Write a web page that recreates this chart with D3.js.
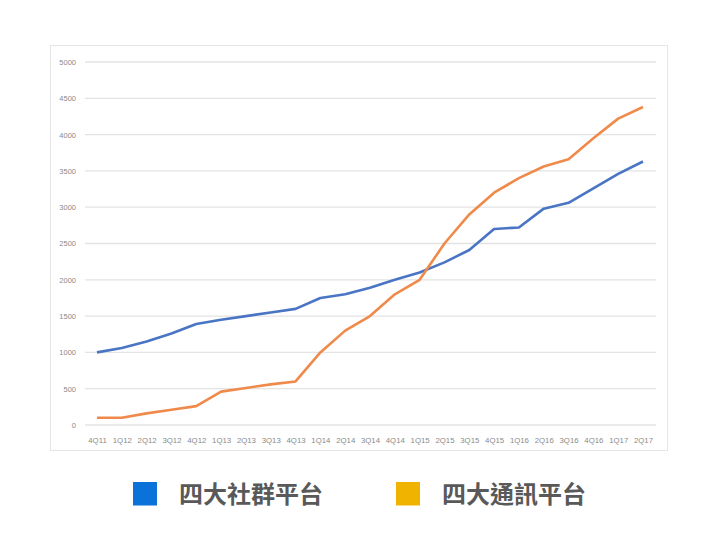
<!DOCTYPE html>
<html>
<head>
<meta charset="utf-8">
<script src="https://cdn.jsdelivr.net/npm/d3@7"></script>
<style>
  body { margin: 0; background: #fff; }
  svg { display: block; }
</style>
</head>
<body>
<div id="chart"></div>
<script>
// Data
const quarters = ["4Q11", "1Q12", "2Q12", "3Q12", "4Q12", "1Q13", "2Q13", "3Q13", "4Q13",
    "1Q14", "2Q14", "3Q14", "4Q14", "1Q15", "2Q15", "3Q15", "4Q15", "1Q16", "2Q16",
    "3Q16", "4Q16", "1Q17", "2Q17"]
const social = [1000, 1060, 1150, 1260, 1390, 1450, 1500, 1550, 1600, 1750, 1800, 1890,
    2000, 2100, 2240, 2410, 2700, 2720, 2980, 3060, 3260, 3460, 3630]
const messaging = [100, 100, 160, 210, 260, 460, 510, 560, 600, 1000, 1300, 1500,
    1800, 2000, 2500, 2900, 3200, 3400, 3560, 3660, 3950, 4220, 4380]
const yTicks = [0, 500, 1000, 1500, 2000, 2500, 3000, 3500, 4000, 4500, 5000]
const legendNames = ["四大社群平台", "四大通訊平台"]

function plotChart() {
    const width = 714
    const height = 541

    const svg = d3.select("#chart").append("svg")
        .attr("width", width)
        .attr("height", height)

    // chart frame
    svg.append("rect")
        .attr("x", 50.5)
        .attr("y", 45.5)
        .attr("width", 617)
        .attr("height", 405)
        .attr("fill", "#fff")
        .attr("stroke", "#e6e6e6")

    const xScale = d3.scalePoint()
        .domain(quarters)
        .range([97, 643])

    const yScale = d3.scaleLinear()
        .domain([0, 5000])
        .range([425, 62])

    // grid lines
    svg.append("g")
        .selectAll("line")
        .data(yTicks)
        .join("line")
        .attr("x1", 85)
        .attr("x2", 656)
        .attr("y1", d => yScale(d))
        .attr("y2", d => yScale(d))
        .attr("stroke", "#e3e3e3")
        .attr("stroke-width", 1.3)

    // y axis
    const yAxis = svg.append("g")
        .attr("transform", "translate(76,0)")
        .call(d3.axisLeft(yScale).tickValues(yTicks).tickFormat(d3.format("d")).tickSize(0).tickPadding(0))
    yAxis.select(".domain").remove()
    yAxis.selectAll("text")
        .attr("fill", "#8a8a8a")
        .attr("font-family", "Liberation Sans, Arial, sans-serif")
        .attr("font-size", "7.5px")

    // x axis
    const xAxis = svg.append("g")
        .attr("transform", "translate(0,437)")
        .call(d3.axisBottom(xScale).tickSize(0).tickPadding(0))
    xAxis.select(".domain").remove()
    xAxis.selectAll("text")
        .attr("fill", "#8a8a8a")
        .attr("font-family", "Liberation Sans, Arial, sans-serif")
        .attr("font-size", "7.8px")

    // lines
    const line = d3.line()
        .x((d, i) => xScale(quarters[i]))
        .y(d => yScale(d))

    svg.append("path")
        .datum(social)
        .attr("fill", "none")
        .attr("stroke", "#4a74c4")
        .attr("stroke-width", 2.6)
        .attr("stroke-linejoin", "round")
        .attr("d", line)

    svg.append("path")
        .datum(messaging)
        .attr("fill", "none")
        .attr("stroke", "#ef8a4a")
        .attr("stroke-width", 2.6)
        .attr("stroke-linejoin", "round")
        .attr("d", line)

    // legend
    const legendColors = ["#0a72d8", "#f0b300"]
    const legendX = [133, 396]

    const legend = svg.selectAll(".legendItem")
        .data(legendNames)
        .join("g")
        .attr("class", "legendItem")
        .attr("transform", (d, i) => `translate(${legendX[i]},482)`)

    legend.append("rect")
        .attr("width", 24)
        .attr("height", 23.5)
        .attr("fill", (d, i) => legendColors[i])

    legend.append("text")
        .attr("x", 46)
        .attr("y", 21)
        .attr("fill", "#595959")
        .attr("font-family", "Noto Sans CJK TC, sans-serif")
        .attr("font-weight", "700")
        .attr("font-size", "24px")
        .text(d => d)
}

plotChart()
</script>
</body>
</html>
